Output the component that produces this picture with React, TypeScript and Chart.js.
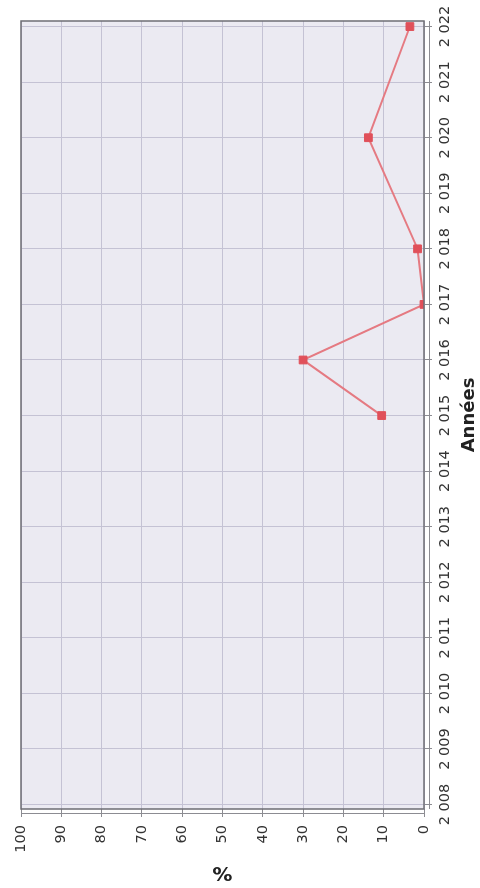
import React, { useEffect, useRef } from "react";
import { Chart, registerables } from "chart.js";

Chart.register(...registerables);

const years: number[] = [2008, 2009, 2010, 2011, 2012, 2013, 2014, 2015, 2016, 2017, 2018, 2019, 2020, 2021, 2022];
const percentValues: (number | null)[] = [null, null, null, null, null, null, null, 10.5, 30, 0, 1.6, null, 13.8, null, 3.5];
const percentTicks: number[] = [0, 10, 20, 30, 40, 50, 60, 70, 80, 90, 100];
const xTitle = "Années";
const yTitle = "%";

const fmtYear = (v: number) => String(v).replace(/\B(?=(\d{3})+(?!\d))/g, " ");

const framePlugin = {
  id: "frame",
  beforeDraw(chart: any) {
    const { ctx, chartArea: a } = chart;
    ctx.save();
    ctx.fillStyle = "#ebeaf2";
    ctx.fillRect(a.left, a.top, a.right - a.left, a.bottom - a.top);
    ctx.restore();
  },
  afterDraw(chart: any) {
    const { ctx, chartArea: a } = chart;
    ctx.save();
    ctx.strokeStyle = "#6e6e74";
    ctx.lineWidth = 1.5;
    ctx.strokeRect(a.left, a.top, a.right - a.left, a.bottom - a.top);
    ctx.strokeStyle = "#8c8c92";
    ctx.lineWidth = 1;
    ctx.beginPath();
    ctx.moveTo(a.left, a.bottom + 5.5);
    ctx.lineTo(a.right, a.bottom + 5.5);
    ctx.moveTo(a.left - 4.5, a.top);
    ctx.lineTo(a.left - 4.5, a.bottom);
    ctx.stroke();
    ctx.restore();
  },
};

export default function App() {
  const ref = useRef<HTMLCanvasElement | null>(null);
  useEffect(() => {
    if (!ref.current) return;
    const chart = new Chart(ref.current, {
      type: "line",
      data: {
        datasets: [
          {
            data: years.map((y, i) => ({ x: y, y: percentValues[i] })) as any,
            borderColor: "#e57a82",
            backgroundColor: "#e0505a",
            pointBorderColor: "#e0505a",
            borderWidth: 2,
            pointStyle: "rect",
            pointRadius: 5.5,
            pointBorderWidth: 1,
            spanGaps: true,
            tension: 0,
          },
        ],
      },
      plugins: [framePlugin],
      options: {
        animation: false,
        responsive: false,
        devicePixelRatio: 1,
        layout: { padding: { left: 0, top: 21, right: 21, bottom: 0 } },
        plugins: { legend: { display: false }, tooltip: { enabled: false } },
        scales: {
          x: {
            type: "linear",
            min: 2007.92,
            max: 2022.1,
            afterBuildTicks: (s: any) => {
              s.ticks = years.map((v) => ({ value: v }));
            },
            afterFit: (s: any) => {
              s.height = 56;
            },
            ticks: {
              callback: (v: any) => fmtYear(Number(v)),
              font: { family: "DejaVu Sans", size: 14.5 },
              color: "#333333",
              padding: 5,
              maxRotation: 0,
              autoSkip: false,
            },
            grid: { color: "#c4c2d4", lineWidth: 1, tickLength: 8, tickColor: "#8c8c92" },
            border: { display: false },
            title: {
              display: true,
              text: xTitle,
              font: { family: "DejaVu Sans", size: 18, weight: "bold" },
              color: "#222222",
              padding: { top: 0, bottom: 0 },
            },
          },
          y: {
            min: 0,
            max: 100,
            afterBuildTicks: (s: any) => {
              s.ticks = percentTicks.map((v) => ({ value: v }));
            },
            afterFit: (s: any) => {
              s.width = 79;
            },
            ticks: {
              font: { family: "DejaVu Sans", size: 14.5 },
              color: "#333333",
              padding: 8,
            },
            grid: { color: "#c4c2d4", lineWidth: 1, tickLength: 8, tickColor: "#8c8c92" },
            border: { display: false },
            title: {
              display: true,
              text: yTitle,
              font: { family: "DejaVu Sans", size: 20, weight: "bold" },
              color: "#222222",
              padding: { top: 4, bottom: 0 },
            },
          },
        },
      },
    });
    return () => chart.destroy();
  }, []);

  return (
    <div
      style={{
        position: "fixed",
        left: 0,
        top: 0,
        width: 888,
        height: 480,
        transformOrigin: "0 0",
        transform: "translateY(888px) rotate(-90deg)",
        background: "#ffffff",
      }}
    >
      <canvas ref={ref} width={888} height={480} style={{ display: "block", width: 888, height: 480 }} />
    </div>
  );
}
